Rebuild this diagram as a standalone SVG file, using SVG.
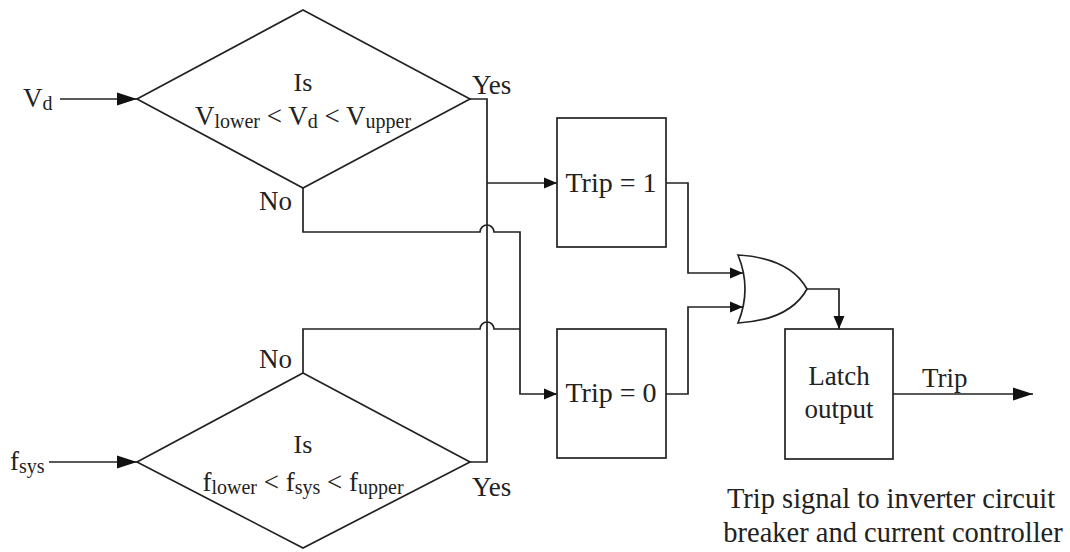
<svg xmlns="http://www.w3.org/2000/svg" width="1070" height="552" viewBox="0 0 1070 552">
<style>
.shape{fill:#fff;stroke:#222;stroke-width:1.7}
.wire{fill:none;stroke:#222;stroke-width:1.7}
text{font-family:"Liberation Serif","Times New Roman",serif;fill:#222;font-size:27px}
.c{text-anchor:middle}
.e{text-anchor:end}
.sub{font-size:20px}
</style>
<defs>
<marker id="big" markerUnits="userSpaceOnUse" markerWidth="20" markerHeight="14" refX="20" refY="7" orient="auto"><path d="M0,0.5 L20,7 L0,13.5 z" fill="#111"/></marker>
<marker id="sm" markerUnits="userSpaceOnUse" markerWidth="13" markerHeight="12" refX="13" refY="6" orient="auto"><path d="M0,0.5 L13,6 L0,11.5 z" fill="#111"/></marker>
</defs>
<rect width="1070" height="552" fill="#fff"/>

<g id="connectors">
<path class="wire" d="M60,99 H137" marker-end="url(#big)"/>
<path class="wire" d="M49,462 H137" marker-end="url(#big)"/>
<path class="wire" d="M470,99 H487 V462 H470"/>
<path class="wire" d="M487,183 H557" marker-end="url(#sm)"/>
<path class="wire" d="M303,188 V232 H480 A7,7 0 0 1 494,232 H520 V394 H557" marker-end="url(#sm)"/>
<path class="wire" d="M303,373 V329 H480 A7,7 0 0 1 494,329 H520"/>
<path class="wire" d="M666,183 H688 V273 H743" marker-end="url(#sm)"/>
<path class="wire" d="M666,394 H688 V307 H743" marker-end="url(#sm)"/>
<path class="wire" d="M807,289 H839 V329" marker-end="url(#sm)"/>
<path class="wire" d="M893,394 H1033" marker-end="url(#big)"/>
</g>

<g id="input-vd"><text x="23" y="107">V<tspan class="sub" dy="3">d</tspan></text></g>
<g id="input-fsys"><text x="10" y="470">f<tspan class="sub" dy="3">sys</tspan></text></g>

<g id="decision-vd">
<polygon class="shape" points="303,10 470,99 303,188 137,99"/>
<text class="c" x="303" y="91" style="font-size:26px">Is</text>
<text class="c" x="303" y="125">V<tspan class="sub" dy="3">lower</tspan><tspan dy="-3"> &lt; V</tspan><tspan class="sub" dy="3">d</tspan><tspan dy="-3"> &lt; V</tspan><tspan class="sub" dy="3">upper</tspan></text>
<text x="472" y="94">Yes</text>
<text class="e" x="292" y="210">No</text>
</g>

<g id="decision-f">
<polygon class="shape" points="303,373 470,462 303,548 137,462"/>
<text class="c" x="303" y="453" style="font-size:26px">Is</text>
<text class="c" x="303" y="491">f<tspan class="sub" dy="3">lower</tspan><tspan dy="-3"> &lt; f</tspan><tspan class="sub" dy="3">sys</tspan><tspan dy="-3"> &lt; f</tspan><tspan class="sub" dy="3">upper</tspan></text>
<text x="472" y="496">Yes</text>
<text class="e" x="292" y="368">No</text>
</g>

<g id="trip1">
<rect class="shape" x="557" y="118" width="109" height="129"/>
<text class="c" x="611" y="192" style="font-size:28px">Trip = 1</text>
</g>

<g id="trip0">
<rect class="shape" x="557" y="329" width="109" height="129"/>
<text class="c" x="611" y="402" style="font-size:28px">Trip = 0</text>
</g>

<g id="or-gate">
<path class="shape" d="M738,255 Q790,258 807,289 Q790,320 738,323 Q752,289 738,255 z"/>
</g>

<g id="latch">
<rect class="shape" x="785" y="329" width="108" height="130"/>
<text class="c" x="839" y="385">Latch</text>
<text class="c" x="839" y="418">output</text>
</g>

<g id="trip-out">
<text x="922" y="387">Trip</text>
</g>

<g id="caption">
<text class="c" x="891" y="508" style="font-size:28.5px">Trip signal to inverter circuit</text>
<text class="c" x="893" y="542" style="font-size:28.5px">breaker and current controller</text>
</g>
</svg>
